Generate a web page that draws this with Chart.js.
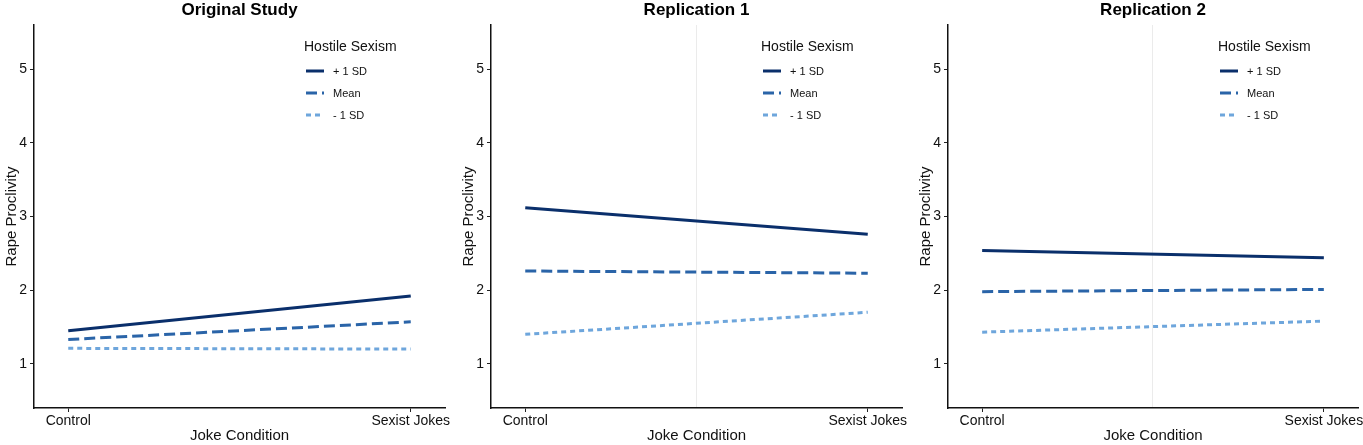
<!DOCTYPE html>
<html>
<head>
<meta charset="utf-8">
<script src="https://cdn.jsdelivr.net/npm/chart.js@4"></script>
<style>
  body { margin: 0; background: #fff; font-family: "Liberation Sans", Arial, sans-serif; }
  .panel { position: absolute; top: 0; height: 445px; }
  .legend { position: absolute; left: 304px; top: 36px; color: #111; }
  .legend .ttl { font-size: 14px; height: 20px; line-height: 20px; margin-bottom: 4px; }
  .legend .row { height: 22px; display: flex; align-items: center; font-size: 11px; }
  .legend svg { margin: 0 9px 0 2px; }
</style>
</head>
<body>
<div id="wrap"></div>
<script>
// categories and values
const conditions = ['Control', 'Sexist Jokes'];
const levels = ['+ 1 SD', 'Mean', '- 1 SD'];
const panelTitles = ['Original Study', 'Replication 1', 'Replication 2'];
const yTicks = [1, 2, 3, 4, 5];

const originalHigh = [1.45, 1.92];
const originalMean = [1.33, 1.57];
const originalLow = [1.21, 1.20];

const rep1High = [3.12, 2.76];
const rep1Mean = [2.26, 2.23];
const rep1Low = [1.40, 1.70];

const rep2High = [2.54, 2.44];
const rep2Mean = [1.98, 2.01];
const rep2Low = [1.43, 1.58];

const panelData = [
    [originalHigh, originalMean, originalLow],
    [rep1High, rep1Mean, rep1Low],
    [rep2High, rep2Mean, rep2Low]
];

// line styles per level
const lineColors = ['#0A2F6B', '#2A64A8', '#6EA6DC'];
const lineDashes = [[], [11, 5], [5, 4]];

// panel placement
const panelLeft = [0, 457, 914];
const panelWidth = [454, 454, 449];
const padRight = [9, 9, 5];

const FONT = '"Liberation Sans", Arial, sans-serif';

panelTitles.forEach(function(title, p) {
    const div = document.createElement('div');
    div.className = 'panel';
    div.style.left = panelLeft[p] + 'px';
    div.style.width = panelWidth[p] + 'px';
    const canvas = document.createElement('canvas');
    canvas.width = panelWidth[p];
    canvas.height = 445;
    div.appendChild(canvas);

    // legend overlay
    const legend = document.createElement('div');
    legend.className = 'legend';
    let html = '<div class="ttl">Hostile Sexism</div>';
    levels.forEach(function(lv, i) {
        html += '<div class="row"><svg width="18" height="6"><line x1="0" y1="3" x2="18" y2="3" stroke="' +
            lineColors[i] + '" stroke-width="3" stroke-dasharray="' + (lineDashes[i].join(',') || 'none') +
            '"/></svg>' + lv + '</div>';
    });
    legend.innerHTML = html;
    div.appendChild(legend);
    document.getElementById('wrap').appendChild(div);

    const showMid = p > 0;

    new Chart(canvas, {
        type: 'line',
        data: {
            datasets: levels.map(function(lv, i) {
                return {
                    label: lv,
                    data: panelData[p][i].map(function(v, k) { return { x: k, y: v }; }),
                    borderColor: lineColors[i],
                    borderDash: lineDashes[i],
                    borderWidth: 3,
                    pointRadius: 0,
                    tension: 0
                };
            })
        },
        options: {
            responsive: false,
            animation: false,
            layout: { padding: { top: 0, right: padRight[p], bottom: 0, left: 0 } },
            plugins: {
                legend: { display: false },
                tooltip: { enabled: false },
                title: {
                    display: true,
                    text: title,
                    fullSize: false,
                    color: '#000',
                    font: { family: FONT, size: 17, weight: 'bold' },
                    padding: { top: 0, bottom: 4.6 }
                }
            },
            scales: {
                x: {
                    type: 'linear',
                    min: -0.1,
                    max: 1.1,
                    afterBuildTicks: function(s) {
                        s.ticks = [{ value: 0 }, { value: 0.5 }, { value: 1 }];
                    },
                    afterFit: function(s) {
                        s.height = 37;
                        s.paddingLeft = 0;
                        s.paddingRight = 0;
                    },
                    ticks: {
                        color: '#111',
                        font: { family: FONT, size: 14 },
                        padding: 1,
                        maxRotation: 0,
                        autoSkip: false,
                        callback: function(v) {
                            if (v === 0) return conditions[0];
                            if (v === 1) return conditions[1];
                            return '';
                        }
                    },
                    grid: {
                        color: function(c) {
                            return (showMid && c.tick && c.tick.value === 0.5) ? '#EBEBEB' : 'rgba(0,0,0,0)';
                        },
                        tickColor: function(c) {
                            return (c.tick && c.tick.value !== 0.5) ? '#222' : 'rgba(0,0,0,0)';
                        },
                        lineWidth: 1,
                        tickLength: 4,
                        drawTicks: true
                    },
                    border: { display: true, color: '#111', width: 1.5 },
                    title: {
                        display: true,
                        text: 'Joke Condition',
                        color: '#111',
                        font: { family: FONT, size: 15 },
                        padding: { top: 0, bottom: 0 }
                    }
                },
                y: {
                    min: 0.4,
                    max: 5.6,
                    afterBuildTicks: function(s) {
                        s.ticks = yTicks.map(function(v) { return { value: v }; });
                    },
                    afterFit: function(s) {
                        s.width = 34;
                        s.paddingTop = 0;
                        s.paddingBottom = 0;
                    },
                    ticks: {
                        color: '#111',
                        font: { family: FONT, size: 14 },
                        padding: 3
                    },
                    grid: {
                        color: 'rgba(0,0,0,0)',
                        tickColor: '#222',
                        tickLength: 4,
                        drawTicks: true
                    },
                    border: { display: true, color: '#111', width: 1.5 },
                    title: {
                        display: true,
                        text: 'Rape Proclivity',
                        color: '#111',
                        font: { family: FONT, size: 15 },
                        padding: { top: 3, bottom: 0 }
                    }
                }
            }
        }
    });
});
</script>
</body>
</html>
